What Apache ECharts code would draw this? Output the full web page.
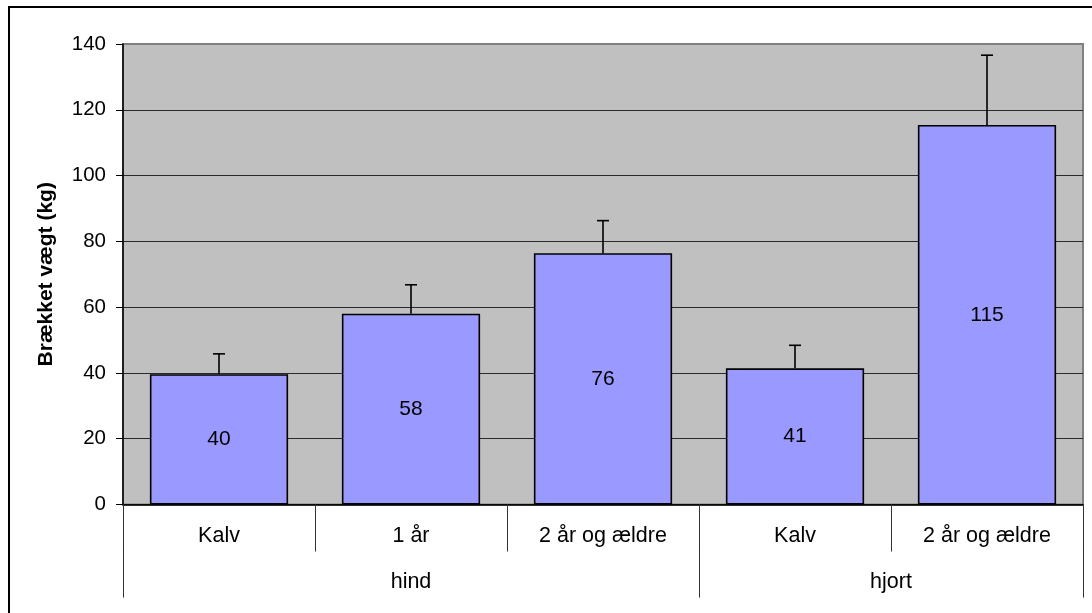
<!DOCTYPE html>
<html>
<head>
<meta charset="utf-8">
<script src="https://cdn.jsdelivr.net/npm/echarts@6/dist/echarts.min.js"></script>
<style>
html,body{margin:0;padding:0;background:#fff;}
#chart{width:1092px;height:613px;}
</style>
</head>
<body>
<div id="chart"></div>
<script>
var categories = ['Kalv', '1 år', '2 år og ældre', 'Kalv', '2 år og ældre'];
var groups = ['hind', 'hjort'];
var groupSpans = [3, 2];
var values = [39.6, 58.0, 76.4, 41.4, 115.4];
var errorUp = [6.2, 8.8, 9.9, 7.0, 21.2];
var yTicks = [0, 20, 40, 60, 80, 100, 120, 140];
var yName = 'Brækket vægt (kg)';

var FONT = '"Liberation Sans", Arial, sans-serif';

var boundaries = [0];
var centers = [];
var acc = 0;
groupSpans.forEach(function (s) { centers.push(acc + s / 2); acc += s; boundaries.push(acc); });

var errData = values.map(function (v, i) { return [i, v, v + errorUp[i]]; });

var gridColors = yTicks.map(function (t, i) { return i === yTicks.length - 1 ? '#808080' : '#2a2a2a'; });

var chart = echarts.init(document.getElementById('chart'));
chart.setOption({
  animation: false,
  backgroundColor: '#ffffff',
  textStyle: { fontFamily: FONT },
  graphic: [{
    type: 'rect',
    shape: { x: 9, y: 7, width: 1200, height: 700 },
    style: { fill: 'none', stroke: '#000', lineWidth: 2 },
    silent: true,
    z: -10
  }],
  grid: {
    left: 123, right: 9, top: 44, bottom: 108.5,
    show: true, backgroundColor: '#C0C0C0', borderColor: '#808080', borderWidth: 2
  },
  xAxis: [{
    type: 'category',
    data: categories,
    axisLine: { show: true, lineStyle: { color: '#000', width: 1.5 } },
    axisTick: { show: true, interval: 0, alignWithLabel: false, length: 47, lineStyle: { color: '#333', width: 1 } },
    axisLabel: { interval: 0, margin: 21, fontSize: 21.5, color: '#000', fontFamily: FONT },
    splitLine: { show: false },
    z: 5
  }, {
    type: 'value',
    min: 0, max: categories.length,
    position: 'bottom',
    axisLine: { show: false },
    axisTick: { show: true, customValues: boundaries, length: 93, lineStyle: { color: '#333', width: 1 } },
    axisLabel: {
      customValues: centers,
      margin: 67, fontSize: 21.5, color: '#000', fontFamily: FONT,
      formatter: function (v) { var k = centers.indexOf(v); return k >= 0 ? groups[k] : ''; }
    },
    splitLine: { show: false }
  }],
  yAxis: {
    type: 'value',
    min: 0, max: 140, interval: 20,
    name: yName,
    nameLocation: 'middle',
    nameGap: 66,
    nameTextStyle: { fontSize: 21, fontWeight: 'bold', color: '#000', fontFamily: FONT },
    axisLine: { show: true, lineStyle: { color: '#000', width: 1.5 } },
    axisTick: { show: true, length: 7, lineStyle: { color: '#000' } },
    axisLabel: { margin: 17, fontSize: 20.5, color: '#000', fontFamily: FONT },
    splitLine: { show: true, lineStyle: { color: gridColors, width: 1.2 } }
  },
  series: [{
    type: 'bar',
    data: values,
    barCategoryGap: '28%',
    itemStyle: { color: '#9999FF', borderColor: '#000', borderWidth: 1.6 },
    label: {
      show: true, position: 'inside', fontSize: 21, color: '#000', fontFamily: FONT,
      formatter: function (p) { return Math.round(p.value); }
    },
    z: 3
  }, {
    type: 'custom',
    data: errData,
    z: 4,
    renderItem: function (params, api) {
      var base = api.coord([api.value(0), api.value(1)]);
      var top = api.coord([api.value(0), api.value(2)]);
      var hw = 6;
      var st = { stroke: '#000', lineWidth: 1.6 };
      return {
        type: 'group',
        children: [
          { type: 'line', shape: { x1: base[0], y1: base[1], x2: top[0], y2: top[1] }, style: st },
          { type: 'line', shape: { x1: top[0] - hw, y1: top[1], x2: top[0] + hw, y2: top[1] }, style: st }
        ]
      };
    }
  }]
});
</script>
</body>
</html>
